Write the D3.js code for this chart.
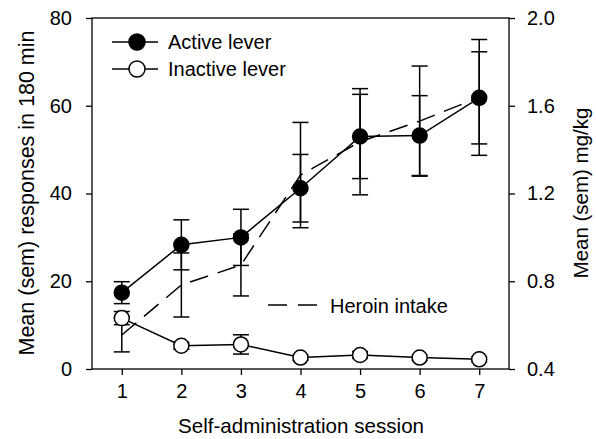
<!DOCTYPE html>
<html>
<head>
<meta charset="utf-8">
<script src="https://cdn.jsdelivr.net/npm/d3@7"></script>
<style>
  body { margin: 0; background: #fff; }
  svg text { font-family: "Liberation Sans", Arial, sans-serif; fill: #000; }
</style>
</head>
<body>
<svg id="chart" width="596" height="439"></svg>
<script>
// values
var sessions = [1, 2, 3, 4, 5, 6, 7];
var activeMean = [17.4, 28.3, 30.0, 41.2, 53.0, 53.2, 61.8];
var activeSem = [2.5, 5.7, 6.4, 7.7, 9.6, 9.1, 10.5];
var inactiveMean = [11.6, 5.3, 5.6, 2.6, 3.2, 2.6, 2.2];
var inactiveSem = [1.5, 0.8, 2.2, 0.6, 0.8, 0.6, 0.6];
var heroinMean = [0.555, 0.783, 0.874, 1.284, 1.436, 1.530, 1.638];
var heroinSem = [0.077, 0.146, 0.141, 0.240, 0.242, 0.251, 0.264];
var leftTicks = [0, 20, 40, 60, 80];
var rightTicks = [0.4, 0.8, 1.2, 1.6, 2.0];

var svg = d3.select("#chart");
// plot box (note: "top" is taken by window.top, so use other names)
var plotL = 92, plotR = 509, plotT = 18, plotB = 369;

var x = d3.scaleLinear().domain([0.5, 7.5]).range([plotL, plotR]);
var yL = d3.scaleLinear().domain([0, 80]).range([plotB, plotT]);
var yR = d3.scaleLinear().domain([0.4, 2.0]).range([plotB, plotT]);

// frame
svg.append("rect")
  .attr("x", plotL).attr("y", plotT)
  .attr("width", plotR - plotL).attr("height", plotB - plotT)
  .attr("fill", "none").attr("stroke", "#000").attr("stroke-width", 1.3);

// axes
var xAxis = svg.append("g").attr("transform", "translate(0," + plotB + ")")
  .call(d3.axisBottom(x).tickValues(sessions).tickSize(6).tickPadding(9).tickFormat(d3.format("d")));
var lAxis = svg.append("g").attr("transform", "translate(" + plotL + ",0)")
  .call(d3.axisLeft(yL).tickValues(leftTicks).tickSize(6).tickPadding(14));
var rAxis = svg.append("g").attr("transform", "translate(" + plotR + ",0)")
  .call(d3.axisRight(yR).tickValues(rightTicks).tickSize(6).tickPadding(12).tickFormat(d3.format(".1f")));

[xAxis, lAxis, rAxis].forEach(function(a) {
  a.select(".domain").remove();
  a.selectAll("line").attr("stroke", "#000").attr("stroke-width", 1.3);
  a.selectAll("text").style("font-size", "20px").attr("fill", "#000")
    .style("font-family", "'Liberation Sans', Arial, sans-serif");
});

// axis titles
svg.append("text")
  .attr("x", (plotL + plotR) / 2 + 0.5).attr("y", 433)
  .attr("text-anchor", "middle").style("font-size", "20.6px")
  .text("Self-administration session");

svg.append("text")
  .attr("transform", "translate(34,193) rotate(-90)")
  .attr("text-anchor", "middle").style("font-size", "21.5px")
  .text("Mean (sem) responses in 180 min");

svg.append("text")
  .attr("transform", "translate(588,193) rotate(-90)")
  .attr("text-anchor", "middle").style("font-size", "20.5px")
  .text("Mean (sem) mg/kg");

var capW = 8;

var drawErr = function(means, sems, y) {
  var g = svg.append("g").attr("stroke", "#000").attr("stroke-width", 1.5);
  sessions.forEach(function(s, i) {
    var cx = x(s), hi = y(means[i] + sems[i]), lo = y(means[i] - sems[i]);
    g.append("line").attr("x1", cx).attr("x2", cx).attr("y1", hi).attr("y2", lo);
    g.append("line").attr("x1", cx - capW).attr("x2", cx + capW).attr("y1", hi).attr("y2", hi);
    g.append("line").attr("x1", cx - capW).attr("x2", cx + capW).attr("y1", lo).attr("y2", lo);
  });
};

// heroin intake (right axis)
drawErr(heroinMean, heroinSem, yR);
svg.append("path")
  .datum(sessions)
  .attr("fill", "none").attr("stroke", "#000").attr("stroke-width", 1.5)
  .attr("stroke-dasharray", "19,10")
  .attr("d", d3.line().x(function(d) { return x(d); }).y(function(d, i) { return yR(heroinMean[i]); }));

// lever responses (left axis)
drawErr(activeMean, activeSem, yL);
drawErr(inactiveMean, inactiveSem, yL);

var line = function(means) {
  return d3.line().x(function(d) { return x(d); }).y(function(d, i) { return yL(means[i]); });
};

svg.append("path").datum(sessions)
  .attr("fill", "none").attr("stroke", "#000").attr("stroke-width", 1.5)
  .attr("d", line(activeMean));
svg.append("path").datum(sessions)
  .attr("fill", "none").attr("stroke", "#000").attr("stroke-width", 1.5)
  .attr("d", line(inactiveMean));

svg.append("g").selectAll("circle")
  .data(sessions).enter().append("circle")
  .attr("cx", function(d) { return x(d); })
  .attr("cy", function(d, i) { return yL(activeMean[i]); })
  .attr("r", 7.5).attr("fill", "#000").attr("stroke", "#000").attr("stroke-width", 1.5);

svg.append("g").selectAll("circle")
  .data(sessions).enter().append("circle")
  .attr("cx", function(d) { return x(d); })
  .attr("cy", function(d, i) { return yL(inactiveMean[i]); })
  .attr("r", 7.5).attr("fill", "#fff").attr("stroke", "#000").attr("stroke-width", 1.5);

// legend
var legend = [
  { label: "Active lever", fill: "#000", y: 42 },
  { label: "Inactive lever", fill: "#fff", y: 69 }
];
legend.forEach(function(l) {
  svg.append("line").attr("x1", 112).attr("x2", 158).attr("y1", l.y).attr("y2", l.y)
    .attr("stroke", "#000").attr("stroke-width", 1.5);
  svg.append("circle").attr("cx", 137).attr("cy", l.y).attr("r", 8)
    .attr("fill", l.fill).attr("stroke", "#000").attr("stroke-width", 1.5);
  svg.append("text").attr("x", 168).attr("y", l.y + 7).style("font-size", "20px").text(l.label);
});

svg.append("line").attr("x1", 268).attr("x2", 318).attr("y1", 305).attr("y2", 305)
  .attr("stroke", "#000").attr("stroke-width", 1.5).attr("stroke-dasharray", "19,11");
svg.append("text").attr("x", 330).attr("y", 313).style("font-size", "20px").text("Heroin intake");
</script>
</body>
</html>
